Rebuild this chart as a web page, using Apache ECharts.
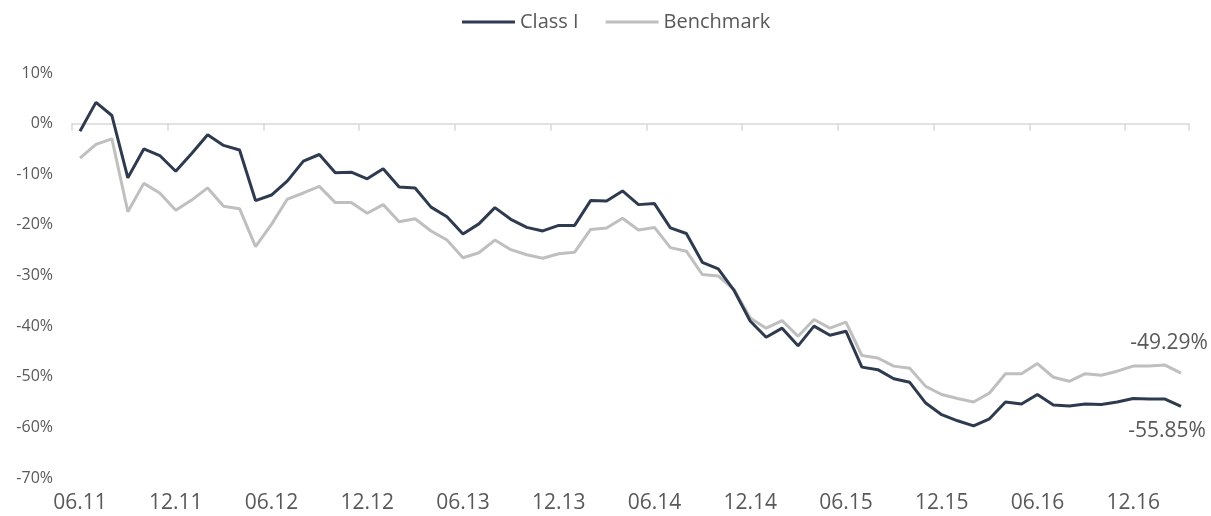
<!DOCTYPE html>
<html>
<head>
<meta charset="utf-8">
<script src="https://cdn.jsdelivr.net/npm/echarts@6/dist/echarts.min.js"></script>
<style>
  html, body { margin: 0; padding: 0; background: #fff; }
  #chart { width: 1211px; height: 516px; }
</style>
</head>
<body>
<div id="chart"></div>
<script>
// monthly points, 06.11 -> 03.17
const months = [
  '06.11','07.11','08.11','09.11','10.11','11.11','12.11','01.12','02.12','03.12','04.12','05.12',
  '06.12','07.12','08.12','09.12','10.12','11.12','12.12','01.13','02.13','03.13','04.13','05.13',
  '06.13','07.13','08.13','09.13','10.13','11.13','12.13','01.14','02.14','03.14','04.14','05.14',
  '06.14','07.14','08.14','09.14','10.14','11.14','12.14','01.15','02.15','03.15','04.15','05.15',
  '06.15','07.15','08.15','09.15','10.15','11.15','12.15','01.16','02.16','03.16','04.16','05.16',
  '06.16','07.16','08.16','09.16','10.16','11.16','12.16','01.17','02.17','03.17'
];

const classI = [
  -1.5, 4.2, 1.6, -10.7, -5.0, -6.3, -9.4, -5.9, -2.2, -4.3, -5.2, -15.2,
  -14.1, -11.3, -7.4, -6.1, -9.7, -9.6, -10.9, -8.9, -12.5, -12.7, -16.5, -18.4,
  -21.8, -19.8, -16.6, -18.9, -20.5, -21.2, -20.1, -20.1, -15.2, -15.3, -13.3, -16.0,
  -15.8, -20.6, -21.7, -27.4, -28.7, -33.0, -39.0, -42.2, -40.4, -43.9, -40.0, -41.8,
  -41.0, -48.1, -48.6, -50.4, -51.1, -55.2, -57.5, -58.7, -59.7, -58.3, -55.0, -55.4,
  -53.5, -55.6, -55.8, -55.4, -55.5, -55.0, -54.3, -54.4, -54.4, -55.85
];

const benchmark = [
  -6.8, -4.1, -3.0, -17.4, -11.8, -13.7, -17.1, -15.1, -12.7, -16.3, -16.8, -24.3,
  -19.9, -14.9, -13.7, -12.4, -15.6, -15.6, -17.7, -16.0, -19.4, -18.8, -21.2, -23.0,
  -26.5, -25.5, -23.0, -24.9, -25.9, -26.6, -25.7, -25.4, -20.9, -20.6, -18.7, -21.0,
  -20.5, -24.5, -25.2, -29.8, -30.1, -32.8, -38.4, -40.4, -38.9, -42.0, -38.7, -40.4,
  -39.2, -45.8, -46.3, -47.9, -48.3, -51.9, -53.5, -54.3, -55.0, -53.2, -49.4, -49.4,
  -47.4, -50.1, -50.9, -49.4, -49.7, -48.9, -47.9, -47.9, -47.7, -49.29
];

const FONT = "'Open Sans', sans-serif";
const TXT = '#595959';

// invisible mark on the last point, carrying the value label
function endMark(arr, pos, dist, dx) {
  const last = arr.length - 1;
  return {
    symbol: 'circle',
    symbolSize: 0,
    silent: true,
    label: {
      show: true, position: pos, distance: dist, offset: [dx, 0],
      formatter: p => p.value.toFixed(2) + '%',
      fontFamily: FONT, fontSize: 21, color: TXT
    },
    data: [{ coord: [months[last], arr[last]], value: arr[last] }]
  };
}

const chart = echarts.init(document.getElementById('chart'));
chart.setOption({
  animation: false,
  textStyle: { fontFamily: FONT },
  legend: {
    top: 7,
    left: 457,
    itemWidth: 53,
    itemHeight: 3,
    itemGap: 27,
    textStyle: { fontFamily: FONT, fontSize: 20, color: TXT },
    data: [
      { name: 'Class I', icon: 'rect' },
      { name: 'Benchmark', icon: 'rect' }
    ]
  },
  grid: { left: 72, right: 22, top: 73, bottom: 38, containLabel: false },
  xAxis: [{
    type: 'category',
    data: months,
    position: 'bottom',
    boundaryGap: true,
    axisLine: { show: false, onZero: false },
    axisTick: { show: false },
    axisLabel: { interval: 5, fontSize: 21, color: TXT, margin: 15, fontFamily: FONT }
  }, {
    type: 'category',
    data: months,
    position: 'bottom',
    boundaryGap: true,
    axisLine: { show: true, onZero: true, lineStyle: { color: '#d9d9d9', width: 1.5 } },
    axisTick: { show: true, interval: 5, length: 7, lineStyle: { color: '#d9d9d9', width: 1.5 } },
    axisLabel: { show: false }
  }],
  yAxis: {
    type: 'value',
    min: -70,
    max: 10,
    interval: 10,
    axisLine: { show: false },
    axisTick: { show: false },
    splitLine: { show: false },
    axisLabel: { formatter: '{value}%', fontSize: 16, color: TXT, margin: 19, fontFamily: FONT }
  },
  series: [{
    name: 'Benchmark',
    type: 'line',
    xAxisIndex: 0,
    data: benchmark,
    showSymbol: false,
    color: '#bfbfbf',
    lineStyle: { width: 3, color: '#bfbfbf' },
    markPoint: endMark(benchmark, 'top', 20, -12),
    z: 2
  }, {
    name: 'Class I',
    type: 'line',
    xAxisIndex: 0,
    data: classI,
    showSymbol: false,
    color: '#2e3b4f',
    lineStyle: { width: 3, color: '#2e3b4f' },
    markPoint: endMark(classI, 'bottom', 14, -14),
    z: 3
  }]
});
</script>
</body>
</html>
